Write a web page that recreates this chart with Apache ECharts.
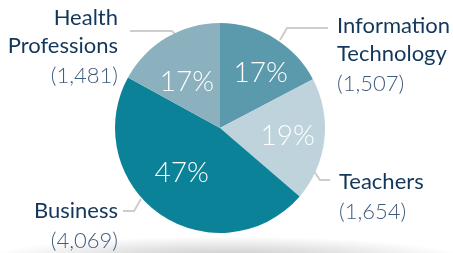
<!DOCTYPE html>
<html>
<head>
<meta charset="utf-8">
<script src="https://cdn.jsdelivr.net/npm/echarts@6/dist/echarts.min.js"></script>
<style>
html,body{margin:0;padding:0;background:#fff;}
#c{width:453px;height:253px;}
</style>
</head>
<body>
<div id="c"></div>
<script>
// ---- data ----
var categories = ['Information\nTechnology', 'Teachers', 'Business', 'Health\nProfessions'];
var counts = [1507, 1654, 4069, 1481];
var countLabels = ['(1,507)', '(1,654)', '(4,069)', '(1,481)'];
var colors = ['#5b9aac', '#bed3db', '#0c8298', '#8bb0be'];

// ---- layout (positions, not data) ----
var center = [220, 128];
var outerLabelPos = [
  {x: 337, y: 12, align: 'left'},
  {x: 339, y: 168, align: 'left'},
  {x: 118, y: 197, align: 'right'},
  {x: 118, y: 4, align: 'right'}
];
var outerLinePts = [
  [[280, 40], [287, 28], [328, 28]],
  [[313, 170], [320, 180], [330, 180]],
  [[141, 199], [134, 211], [123, 211]],
  [[178, 37], [172, 31], [130, 31]]
];
var pctNudge = [[5, 4], [-1, 0], [1, -12], [2, 13]];

var pieData = categories.map(function (c, i) {
  return {name: c, value: counts[i], itemStyle: {color: colors[i]}};
});
var ghostData = categories.map(function (c, i) {
  return {name: c, value: counts[i], itemStyle: {color: 'rgba(0,0,0,0)'}};
});

var chart = echarts.init(document.getElementById('c'), null, {renderer: 'canvas'});
var FONT = 'Lato, "Open Sans", sans-serif';
chart.setOption({
  animation: false,
  backgroundColor: '#fff',
  graphic: [{
    type: 'circle',
    shape: {cx: 0, cy: 0, r: 240},
    x: 226, y: 258, scaleY: 0.09,
    silent: true, z: -10,
    style: {
      fill: new echarts.graphic.RadialGradient(0.5, 0.5, 0.5, [
        {offset: 0, color: 'rgba(0,0,0,0.22)'},
        {offset: 0.55, color: 'rgba(0,0,0,0.10)'},
        {offset: 1, color: 'rgba(0,0,0,0)'}
      ])
    }
  }],
  series: [
    {
      type: 'pie',
      center: center,
      radius: [0, 105],
      startAngle: 90,
      clockwise: true,
      silent: true,
      data: pieData,
      itemStyle: {borderWidth: 0},
      label: {
        show: true,
        position: 'outside',
        overflow: 'none',
        fontFamily: FONT,
        formatter: function (p) {
          return '{n|' + p.name + '}\n{v|' + countLabels[p.dataIndex] + '}';
        },
        rich: {
          n: {fontSize: 22, lineHeight: 28, color: '#13375b', fontFamily: FONT, fontWeight: 400},
          v: {fontSize: 22, lineHeight: 32, color: '#3e5d7d', fontFamily: FONT, fontWeight: 300}
        }
      },
      labelLine: {show: true, lineStyle: {color: '#cdcdcd', width: 2}},
      labelLayout: function (p) {
        var o = outerLabelPos[p.dataIndex];
        return {
          x: o.x, y: o.y, align: o.align, verticalAlign: 'top',
          labelLinePoints: outerLinePts[p.dataIndex]
        };
      },
      z: 2
    },
    {
      type: 'pie',
      center: center,
      radius: [0, 132],
      startAngle: 90,
      clockwise: true,
      silent: true,
      percentPrecision: 0,
      data: ghostData,
      label: {
        show: true,
        position: 'inside',
        formatter: '{d}%',
        color: '#fff',
        fontSize: 28,
        fontWeight: 300,
        fontFamily: FONT
      },
      labelLine: {show: false},
      labelLayout: function (p) {
        var n = pctNudge[p.dataIndex];
        return {dx: n[0], dy: n[1]};
      },
      z: 3
    }
  ]
});
</script>
</body>
</html>
